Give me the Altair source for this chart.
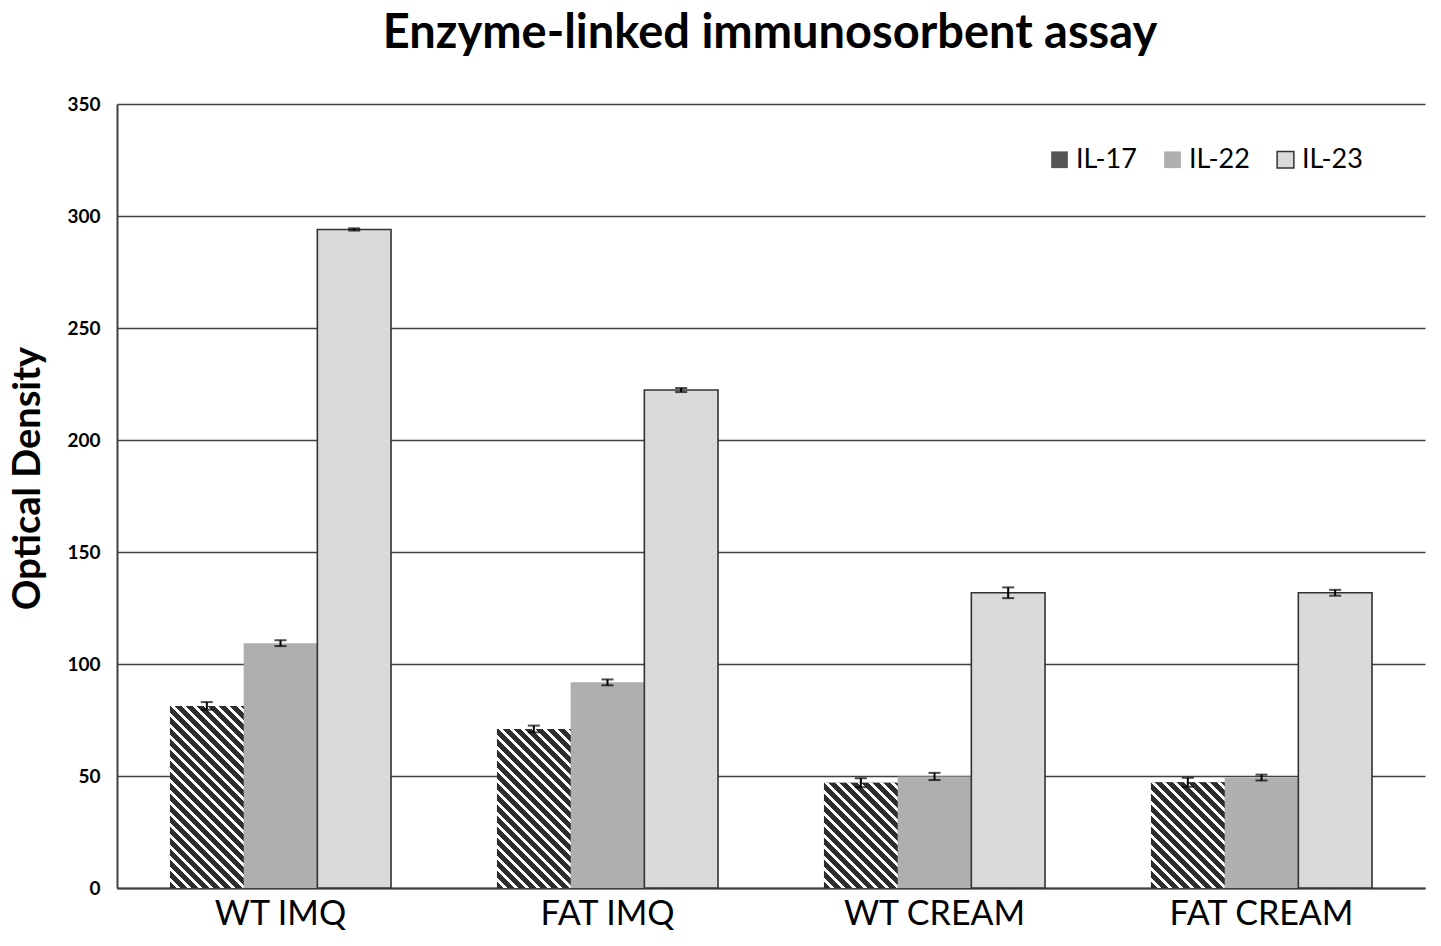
import altair as alt
import pandas as pd

# ---- data ----
TITLE = "Enzyme-linked immunosorbent assay"
groups = ["WT IMQ", "FAT IMQ", "WT CREAM", "FAT CREAM"]
series = ["IL-17", "IL-22", "IL-23"]
il17 = [81.3, 71.0, 47.0, 47.2]
il22 = [109.3, 91.8, 49.8, 49.3]
il23 = [294.0, 222.3, 131.8, 131.8]
err17 = [1.7, 1.5, 2.0, 2.0]
err22 = [1.3, 1.3, 1.6, 1.3]
err23 = [0.5, 0.9, 2.4, 1.3]

# ---- layout constants ----
W, H, YMAX = 1308, 784, 350
PAD_INNER = 0.324
FONT = "Lato"
DARK = "#2e2e2e"

rows = []
for i, g in enumerate(groups):
    for s, vals, errs in ((series[0], il17, err17), (series[1], il22, err22), (series[2], il23, err23)):
        rows.append({"group": g, "series": s, "value": vals[i],
                     "lo": vals[i] - errs[i], "hi": vals[i] + errs[i]})
df = pd.DataFrame(rows)

x_enc = alt.X("group:N", sort=groups, title=None,
              scale=alt.Scale(domain=groups, paddingInner=PAD_INNER, paddingOuter=PAD_INNER / 2))
xo_enc = alt.XOffset("series:N", scale=alt.Scale(domain=series, paddingInner=0, paddingOuter=0))
y_scale = alt.Scale(domain=[0, YMAX], nice=False)

base = alt.Chart(df)

bars = base.mark_bar(strokeWidth=1.6).encode(
    x=x_enc,
    xOffset=xo_enc,
    y=alt.Y("value:Q", scale=y_scale, title="Optical Density",
            axis=alt.Axis(values=list(range(0, YMAX + 1, 50)))),
    color=alt.Color("series:N", scale=alt.Scale(domain=series, range=["#555555", "#afafaf", "#dadada"]),
                    title=None),
    stroke=alt.Stroke("series:N", scale=alt.Scale(domain=series, range=["transparent", "transparent", "#333333"]),
                      title=None),
)

# diagonal hatching for IL-17 bars via hard-stop linear gradients
step = W / len(groups)
bar_w = step * (1 - PAD_INNER) / len(series)


def stripe_gradient(value):
    w = bar_w
    h = value * H / YMAX
    k = (w + h) / (w * w + h * h)
    period = 11.0
    dt = period / (w + h)
    stops = []
    t = 0.0
    while t < 1:
        t2 = min(t + 0.58 * dt, 1.0)
        t3 = min(t + dt, 1.0)
        stops += [alt.GradientStop(offset=t, color=DARK),
                  alt.GradientStop(offset=t2, color=DARK),
                  alt.GradientStop(offset=t2, color="white"),
                  alt.GradientStop(offset=t3, color="white")]
        t = t + dt
    return alt.LinearGradient(gradient="linear", stops=stops, x1=0, y1=1, x2=k * w, y2=1 - k * h)


hatch_layers = []
for g, v in zip(groups, il17):
    hatch_layers.append(
        base.mark_bar(fill=stripe_gradient(v), strokeWidth=0)
        .encode(x=x_enc, xOffset=xo_enc, y=alt.Y("value:Q", scale=y_scale))
        .transform_filter((alt.datum.group == g) & (alt.datum.series == "IL-17"))
    )

err_rule = base.mark_rule(color="black", strokeWidth=2).encode(
    x=x_enc, xOffset=xo_enc, y=alt.Y("lo:Q", scale=y_scale), y2="hi:Q")
cap_lo = base.mark_tick(color="black", orient="horizontal", size=12, thickness=2).encode(
    x=x_enc, xOffset=xo_enc, y=alt.Y("lo:Q", scale=y_scale))
cap_hi = base.mark_tick(color="black", orient="horizontal", size=12, thickness=2).encode(
    x=x_enc, xOffset=xo_enc, y=alt.Y("hi:Q", scale=y_scale))

title_mark = alt.Chart(pd.DataFrame({"t": [TITLE]})).mark_text(
    font=FONT, fontSize=47, fontWeight="bold", color="black", align="center", baseline="alphabetic"
).encode(text="t:N", x=alt.value(W / 2 - 1), y=alt.value(-56))

chart = alt.layer(bars, *hatch_layers, err_rule, cap_lo, cap_hi, title_mark).properties(
    width=W, height=H,
    padding={"left": 109, "top": 96, "right": 8, "bottom": 50},
    autosize=alt.AutoSizeParams(type="none"),
).configure_view(stroke=None).configure_axisY(
    grid=True, gridColor="#404040", gridWidth=1.5, domainColor="#404040", domainWidth=2,
    ticks=False, labelFont=FONT, labelFontSize=19, labelFontWeight="bold", labelColor="black",
    labelPadding=17, titleFont=FONT, titleFontSize=38, titleFontWeight="bold", titleColor="black",
    titleX=-89, titleY=374, titleAngle=-90, titleBaseline="middle", titleAlign="center",
).configure_axisX(
    domainColor="#404040", domainWidth=2, ticks=False, labelAngle=0, labelFont=FONT,
    labelFontSize=34, labelColor="black", labelPadding=9, labelLimit=0, grid=False,
).configure_legend(
    orient="none", legendX=929, legendY=42, direction="horizontal", symbolType="square",
    symbolSize=280, symbolStrokeWidth=1.5, labelFont=FONT, labelFontSize=27, labelColor="black",
    columnPadding=22, labelOffset=3,
)

chart.save("out.html", embed_options={"renderer": "svg", "actions": False})
